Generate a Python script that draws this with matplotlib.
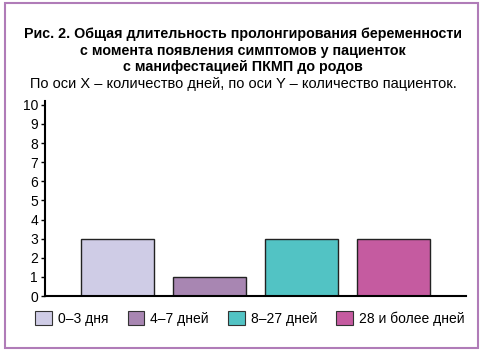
import matplotlib
matplotlib.use('Agg')
import matplotlib.pyplot as plt
from matplotlib.patches import Rectangle, Patch

plt.rcParams['font.family'] = ['Liberation Sans', 'DejaVu Sans']

categories = ['0–3 дня', '4–7 дней', '8–27 дней', '28 и более дней']
patients = [3, 1, 3, 3]
colors = ['#cfcce6', '#a886b2', '#52c3c4', '#c55ba0']
yticks = list(range(0, 11))

title_lines = ['Рис. 2. Общая длительность пролонгирования беременности',
               'с момента появления симптомов у пациенток',
               'с манифестацией ПКМП до родов']
subtitle = 'По оси X – количество дней, по оси Y – количество пациенток.'

W, H = 486, 353
fig = plt.figure(figsize=(W / 100, H / 100), dpi=100)

# рамка вокруг рисунка
fig.patches.append(Rectangle((5 / W, 1 - 348 / H), 473 / W, 345 / H,
                             transform=fig.transFigure, fill=False,
                             edgecolor='#b07cb8', linewidth=1.5))

for i, line in enumerate(title_lines):
    fig.text(0.5, 1 - (38 + 16.5 * i) / H, line, ha='center', va='baseline',
             fontsize=10.3, fontweight='bold')
fig.text(0.5, 1 - 88 / H, subtitle, ha='center', va='baseline', fontsize=10.5)

ax = fig.add_axes([45 / W, 1 - 296 / H, 421 / W, (296 - 101) / H])
x = list(range(len(categories)))
ax.bar(x, patients, width=0.79, color=colors, edgecolor='#222222', linewidth=1)
ax.set_xlim(-0.79, len(categories) - 1 + 0.79)
ax.set_ylim(0, 10.2)
ax.set_yticks(yticks)
ax.set_xticks([])
ax.tick_params(axis='y', length=3, width=1, labelsize=10, pad=2)
for s in ['top', 'right']:
    ax.spines[s].set_visible(False)
ax.spines['left'].set_linewidth(1.5)
ax.spines['bottom'].set_linewidth(1.5)

handles = [Patch(facecolor=c, edgecolor='#333333', linewidth=0.8) for c in colors]
fig.legend(handles, categories, loc='center', bbox_to_anchor=(250 / W, 1 - 318.5 / H),
           ncol=4, frameon=False, fontsize=10, handlelength=1.2, handleheight=1.15,
           columnspacing=1.35, handletextpad=0.45, borderpad=0)

fig.savefig('out.png', dpi=100)
